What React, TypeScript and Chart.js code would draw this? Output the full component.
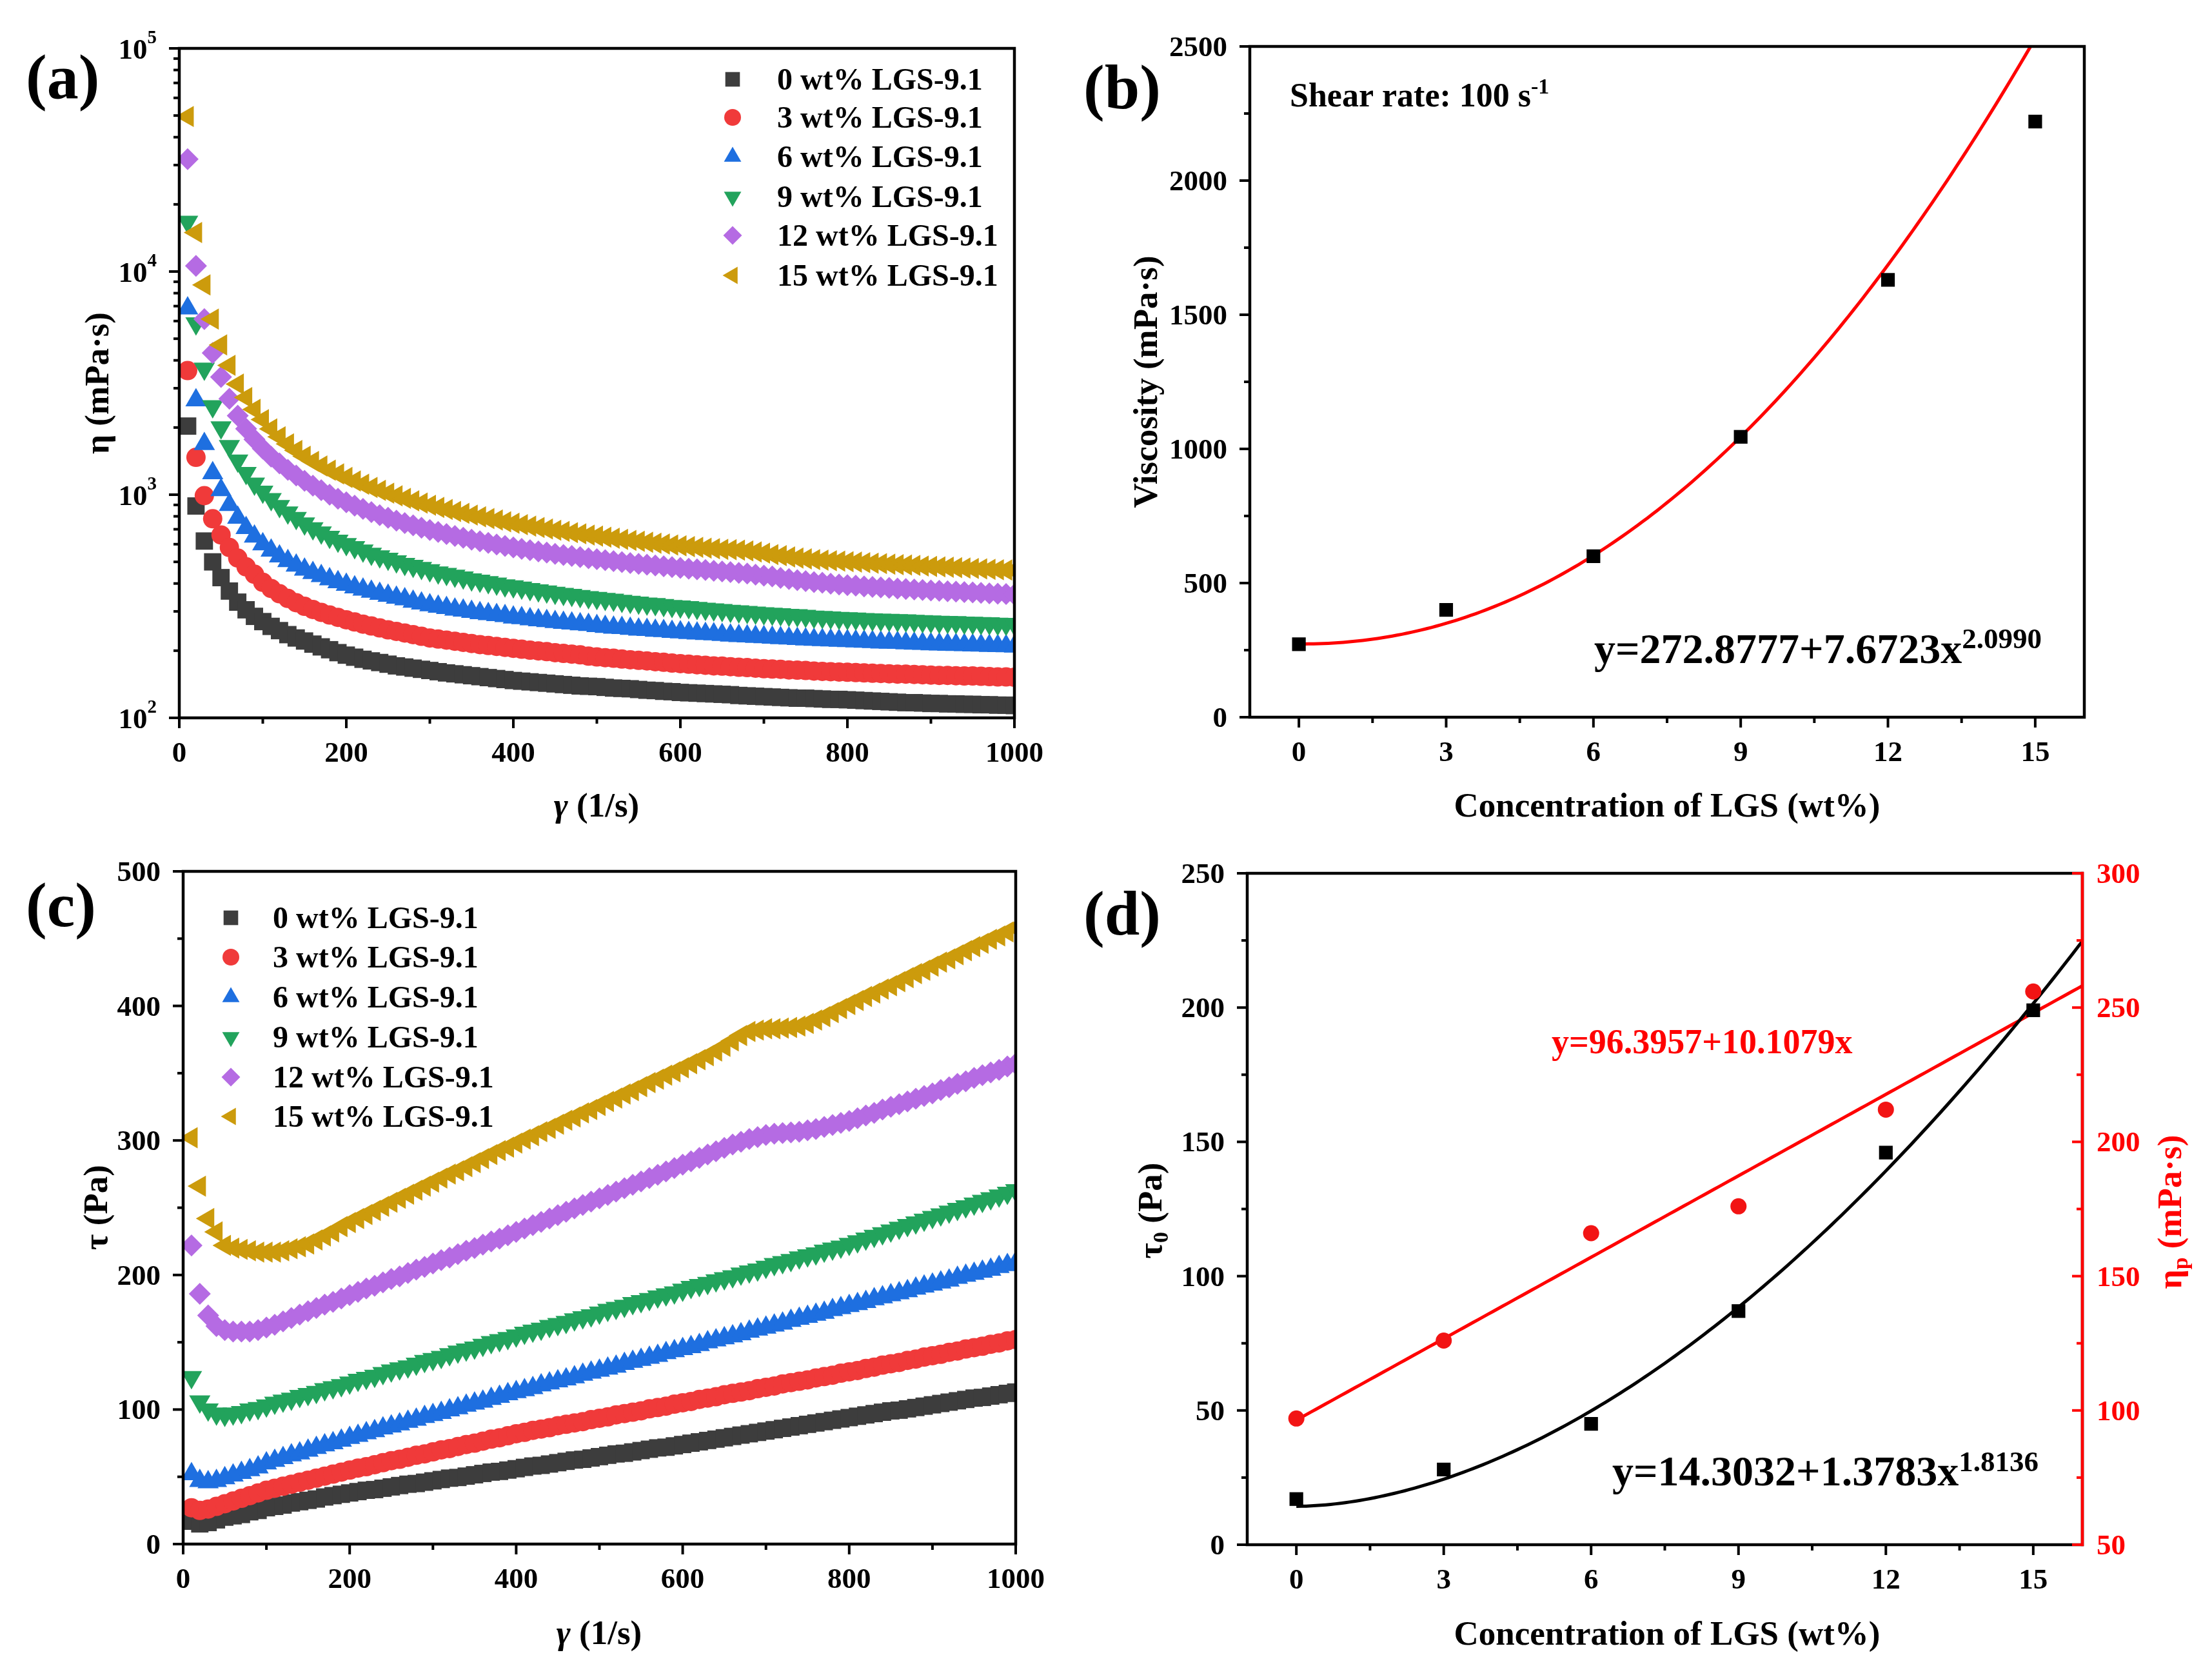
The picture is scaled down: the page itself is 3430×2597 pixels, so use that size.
import React, { useEffect, useRef } from 'react';
import { Chart, registerables } from 'chart.js';

Chart.register(...registerables);

const FONT = '"Liberation Serif", "Times New Roman", Times, serif';

// ---------- data ----------
const shearRate = [
  10, 20, 30, 40, 50, 60, 70, 80, 90, 100,
  110, 120, 130, 140, 150, 160, 170, 180, 190, 200,
  210, 220, 230, 240, 250, 260, 270, 280, 290, 300,
  310, 320, 330, 340, 350, 360, 370, 380, 390, 400,
  410, 420, 430, 440, 450, 460, 470, 480, 490, 500,
  510, 520, 530, 540, 550, 560, 570, 580, 590, 600,
  610, 620, 630, 640, 650, 660, 670, 680, 690, 700,
  710, 720, 730, 740, 750, 760, 770, 780, 790, 800,
  810, 820, 830, 840, 850, 860, 870, 880, 890, 900,
  910, 920, 930, 940, 950, 960, 970, 980, 990, 1000,
];

const seriesLabels = ['0 wt% LGS-9.1', '3 wt% LGS-9.1', '6 wt% LGS-9.1', '9 wt% LGS-9.1', '12 wt% LGS-9.1', '15 wt% LGS-9.1'];

// (a) viscosity, mPa·s
const visc0 = [
  2030, 890, 620, 500, 425, 370, 330, 305, 285, 270,
  257, 246, 236, 228, 221, 214, 208, 202, 196, 191,
  187, 183, 180, 177, 174, 171, 169, 167, 165, 163,
  161, 159, 157.5, 156, 154.5, 153, 151.5, 150, 148.5, 147,
  146, 145, 144, 143, 142, 141, 140, 139, 138.5, 138,
  137, 136, 135.5, 135, 134, 133, 132.5, 131.5, 131, 130,
  129.5, 129, 128.5, 128, 127.5, 127, 126, 125.5, 125, 124.5,
  124, 123.5, 123, 122.5, 122.5, 122, 121.5, 121, 121, 120.5,
  120, 119.5, 119, 118.5, 118, 117.5, 117, 117, 116.5, 116,
  116, 115.5, 115.5, 115, 115, 114.5, 114.5, 114, 114, 113.5,
];
const visc3 = [
  3600, 1470, 990, 780, 660, 580, 520, 475, 440, 405,
  380, 360, 343, 328, 316, 306, 297, 289, 282, 275,
  269, 263, 258, 253, 248, 244, 240, 236, 232, 228,
  225.5, 223, 220.5, 218, 215.5, 213, 211, 209, 207, 205,
  203, 201, 199.5, 198, 196, 194.5, 193, 191.5, 189, 187.5,
  186, 185, 183.5, 182, 181, 180, 178.5, 177.5, 176, 175,
  174, 173, 172, 171, 170.5, 169.5, 168.5, 168, 167, 166,
  165.5, 165, 164, 163.5, 163, 162, 161.5, 161, 160.5, 160,
  159.5, 159, 158.5, 158, 157.5, 157, 157, 156.5, 156, 155.5,
  155, 155, 154.5, 154, 154, 153.5, 153, 152.5, 152.5, 152,
];
const visc6 = [
  6840, 2650, 1690, 1250, 1050, 900, 790, 710, 650, 600,
  562, 530, 505, 482, 462, 446, 432, 418, 406, 395,
  385, 376, 368, 360, 353, 346, 340, 332, 326, 320,
  315, 311, 306, 303, 299, 295, 292, 289, 286, 282,
  280, 277, 274, 272, 269, 267, 265, 263, 261, 258,
  256, 254, 253, 251, 249, 248, 246, 245, 243, 242,
  240.5, 239, 238, 237, 235.5, 234, 233, 232, 231, 230,
  229, 228, 227, 226, 225, 224, 223.5, 222.5, 222, 221,
  220.5, 219.5, 219, 218, 217.5, 217, 216, 215.5, 215, 214,
  213.5, 213, 212.5, 212, 211.5, 211, 210.5, 210, 209.5, 209,
];
const visc9 = [
  16700, 5850, 3665, 2490, 2000, 1650, 1420, 1250, 1120, 1030,
  955, 888, 831, 786, 743, 706, 676, 647, 621, 600,
  581, 561, 543, 529, 516, 502, 489, 479, 469, 458,
  448, 441, 433, 425, 417, 411, 405, 399, 392, 388,
  383, 377, 372, 368, 363, 359, 355, 351, 347, 344,
  341, 338, 334, 331, 328, 325, 323, 320, 317, 315,
  313, 310.5, 308, 306, 304, 301.5, 300, 298, 296, 294,
  292.5, 291, 289, 288, 286, 284, 283, 281.5, 280, 279,
  278, 277, 276, 275, 274.5, 273.5, 273, 272, 271, 270,
  269, 268.5, 268, 267, 266.5, 265.5, 265, 264, 263.5, 263,
];
const visc12 = [
  31900, 10600, 6120, 4315, 3370, 2690, 2260, 1975, 1770, 1610,
  1482, 1380, 1292, 1218, 1153, 1097, 1047, 1000, 960, 925,
  893, 864, 835, 810, 788, 765, 746, 729, 711, 695,
  681, 666, 653, 641, 629, 618, 608, 598, 589, 580,
  572, 564, 557, 550, 543, 537, 531, 525, 519, 514,
  509, 504, 499, 494, 490, 486, 482, 478, 474, 470,
  466, 463, 460, 456, 453, 450, 446, 443, 438, 434,
  430, 424, 419, 414, 410, 406, 403, 399, 396, 393,
  391, 388, 386, 384, 382, 380, 378, 376, 374, 372,
  371, 369, 368, 366, 365, 363, 361, 360, 359, 357,
];
const visc15 = [
  49500, 14960, 8710, 6120, 4690, 3800, 3130, 2725, 2410, 2170,
  1973, 1817, 1688, 1579, 1487, 1410, 1345, 1288, 1240, 1195,
  1152, 1114, 1078, 1046, 1016, 988, 963, 939, 917, 897,
  877, 859, 841, 825, 810, 796, 782, 770, 756, 745,
  734, 723, 713, 702, 693, 685, 676, 668, 659, 652,
  645, 638, 631, 624, 618, 612, 606, 601, 595, 590,
  585, 581, 576, 573, 569, 567, 564, 560, 554, 547,
  539, 533, 526, 520, 516, 512, 509, 506, 504, 501,
  499, 496, 493, 491, 488, 486, 484, 482, 479, 477,
  475, 473, 471, 469, 467, 465, 463, 461, 460, 458,
];

// (c) shear stress, Pa
const stress0 = [
  17, 15, 16, 18, 20, 21, 22, 24, 25, 27,
  28, 29, 30.5, 31.5, 32.5, 33.5, 35, 36, 37, 38,
  39, 40, 40.5, 41.5, 42.5, 43.5, 44.5, 45, 46, 47,
  48, 49, 49.5, 50.5, 51.5, 52.5, 53.5, 54, 55, 56,
  57, 58, 58.5, 59.5, 60.5, 61.5, 62.5, 63, 64, 65,
  66, 67, 67.5, 68.5, 69.5, 70.5, 71.5, 72, 73, 74,
  75, 76, 77, 78, 79, 80, 81, 82, 83, 84,
  85, 86, 87, 88, 89, 90, 91, 92, 93, 94,
  95, 96, 97, 98, 99, 99.5, 100.5, 101.5, 102.5, 103.5,
  104.5, 105.5, 106.5, 107.5, 108.5, 109, 110, 111, 112, 113,
];
const stress3 = [
  27, 25, 26, 28, 30, 32, 34, 36, 38, 40,
  41.5, 43, 44.5, 46, 47.5, 49, 50.5, 52, 53.5, 55,
  56.5, 57.5, 59, 60.5, 62, 63, 64.5, 66, 67, 68.5,
  70, 71, 72.5, 74, 75, 76.5, 78, 79, 80.5, 82,
  83, 84.5, 85.5, 86.5, 88, 89, 90, 91, 92.5, 93.5,
  94.5, 96, 97, 98, 99, 100.5, 101.5, 102.5, 104, 105,
  106, 107.5, 108.5, 109.5, 111, 112, 113, 114, 115.5, 116.5,
  117.5, 119, 120, 121, 122, 123.5, 124.5, 125.5, 127, 128,
  129, 130.5, 131.5, 133, 134, 135, 136.5, 137.5, 139, 140,
  141, 142.5, 143.5, 145, 146, 147, 148.5, 149.5, 151, 152,
];
const stress6 = [
  52, 47, 46, 47, 49, 51, 53, 55, 57, 60,
  62, 64, 66, 67.5, 69.5, 71.5, 73.5, 75, 77, 79,
  80.5, 82.5, 84, 86, 87.5, 89, 91, 92.5, 94.5, 96,
  97.5, 99.5, 101, 103, 104.5, 106, 108, 109.5, 111.5, 113,
  114.5, 116, 118, 119.5, 121, 122.5, 124, 126, 127.5, 129,
  130.5, 132, 134, 135.5, 137, 138.5, 140, 142, 143.5, 145,
  146.5, 148, 150, 151.5, 153, 154.5, 156, 158, 159.5, 161,
  162.5, 164, 166, 167.5, 169, 170.5, 172, 174, 175.5, 177,
  178.5, 180, 182, 183.5, 185, 186.5, 188, 190, 191.5, 193,
  194.5, 196, 198, 199.5, 201, 202.5, 204, 206, 207.5, 209,
];
const stress9 = [
  124, 106, 100, 97, 96, 97, 98, 100, 101, 103,
  105, 106.5, 108, 110, 111.5, 113, 115, 116.5, 118, 120,
  122, 123.5, 125, 127, 129, 130.5, 132, 134, 136, 137.5,
  139, 141, 143, 144.5, 146, 148, 150, 151.5, 153, 155,
  157, 158.5, 160, 162, 163.5, 165, 167, 168.5, 170, 172,
  174, 175.5, 177, 179, 180.5, 182, 184, 185.5, 187, 189,
  191, 192.5, 194, 196, 197.5, 199, 201, 202.5, 204, 206,
  208, 209.5, 211, 213, 214.5, 216, 218, 219.5, 221, 223,
  225, 227, 229, 231, 233, 235, 237, 239, 241, 243,
  245, 247, 249, 251, 253, 255, 257, 259, 261, 263,
];
const stress12 = [
  222, 186, 170, 162, 159, 158, 158, 158, 159, 161,
  163, 165.5, 168, 170.5, 173, 175.5, 178, 180, 182.5, 185,
  187.5, 190, 192, 194.5, 197, 199, 201.5, 204, 206, 208.5,
  211, 213, 215.5, 218, 220, 222.5, 225, 227, 229.5, 232,
  234.5, 237, 239.5, 242, 244.5, 247, 249.5, 252, 254.5, 257,
  259.5, 262, 264.5, 267, 269.5, 272, 274.5, 277, 279.5, 282,
  284.5, 287, 289.5, 292, 294.5, 297, 299, 301, 302.5, 304,
  305, 305.5, 306, 306.5, 307.5, 308.5, 310, 311.5, 313, 314.5,
  316.5, 318.5, 320.5, 323, 325, 327, 329, 331, 333, 335,
  337.5, 339.5, 342, 344, 346.5, 348.5, 350.5, 352.5, 355, 357,
];
const stress15 = [
  302, 266, 242, 232, 222, 220, 219, 218, 217, 217,
  217, 218, 219.5, 221, 223, 226, 229, 232, 236, 239,
  242, 245, 248, 251, 254, 257, 260, 263, 266, 269,
  272, 275, 277.5, 280.5, 283.5, 286.5, 289.5, 292.5, 295, 298,
  301, 303.5, 306.5, 309, 312, 315, 317.5, 320.5, 323, 326,
  329, 331.5, 334.5, 337, 340, 343, 345.5, 348.5, 351, 354,
  357, 360, 363, 366.5, 370, 374, 378, 381, 382, 383,
  383, 383.5, 384, 385, 387, 389.5, 392, 395, 398, 401,
  404, 407, 409.5, 412.5, 415, 418, 421, 424, 426.5, 429.5,
  432.5, 435, 438, 441, 444, 446.5, 449.5, 452, 455, 458,
];

const viscSeries = [visc0, visc3, visc6, visc9, visc12, visc15];
const stressSeries = [stress0, stress3, stress6, stress9, stress12, stress15];

// (b) viscosity at 100 s-1 vs concentration
const concentration = [0, 3, 6, 9, 12, 15];
const viscosityAt100 = [272, 400, 600, 1045, 1630, 2220];
const FIT_B = { a: 272.8777, b: 7.6723, n: 2.099 };

// (d) yield stress and plastic viscosity
const yieldStress = [17, 28, 45, 87, 146, 199];
const plasticViscosity = [97, 126, 166, 176, 212, 256];
const FIT_D_TAU = { a: 14.3032, b: 1.3783, n: 1.8136 };
const FIT_D_ETA = { a: 96.3957, b: 10.1079 };

// tick values / labels
const rateTicks = [0, 200, 400, 600, 800, 1000];
const rateMinor = [100, 300, 500, 700, 900];
const logTicks = [100, 1000, 10000, 100000];
const logTickExp = ['2', '3', '4', '5'];
const logMinor = [200, 300, 400, 500, 600, 700, 800, 900, 2000, 3000, 4000, 5000, 6000, 7000, 8000, 9000, 20000, 30000, 40000, 50000, 60000, 70000, 80000, 90000];
const concTicks = [0, 3, 6, 9, 12, 15];
const concMinor = [1.5, 4.5, 7.5, 10.5, 13.5];
const viscTicks = [0, 500, 1000, 1500, 2000, 2500];
const viscMinor = [250, 750, 1250, 1750, 2250];
const stressTicks = [0, 100, 200, 300, 400, 500];
const stressMinor = [50, 150, 250, 350, 450];
const tauTicks = [0, 50, 100, 150, 200, 250];
const tauMinor = [25, 75, 125, 175, 225];
const etaPTicks = [50, 100, 150, 200, 250, 300];
const etaPMinor = [75, 125, 175, 225, 275];

// ---------- styles ----------
const seriesColor = ['#3d3d3d', '#f03a3a', '#1e6fe0', '#22a35c', '#b56be3', '#cc9b0c'];
const seriesStyle = ['rect', 'circle', 'triangle', 'triangle', 'rectRot', 'triangle'];
const seriesRotation = [0, 0, 0, 180, 0, -90];
const seriesRadius = [19, 15, 19, 19, 17, 19];
const legendRadius = [16, 13, 15.5, 15.5, 14.5, 15.5];
const RED = '#ff0000';

const AXIS_W = 4.5;
const TICK_W = 4;
const MAJ_LEN = 16;
const MIN_LEN = 9;
const TICK_FONT = 45;
const LEG_FONT = 48;
const TITLE_FONT = 53;
const PANEL_FONT = 98;

type Seg = { t: string; s: number; dy?: number; it?: boolean };
type TextItem = { segs: Seg[]; x: number; y: number; align?: 'left' | 'center' | 'right'; color?: string; rot?: number; vc?: boolean };
type AxisSpec = {
  id: string; side: 'bottom' | 'left' | 'right';
  major: number[]; minor: number[]; labels?: string[]; logExp?: string[];
  color?: string; inward?: boolean;
};
type LegendSpec = { mx: number; tx: number; rows: number[] };

const fontOf = (g: Seg) => `${g.it ? 'italic ' : ''}bold ${g.s}px ${FONT}`;

function drawRich(ctx: CanvasRenderingContext2D, item: TextItem) {
  const { segs, x, y, align = 'left', color = '#000', rot = 0, vc = false } = item;
  ctx.save();
  ctx.translate(x, y);
  if (rot) ctx.rotate((rot * Math.PI) / 180);
  let w = 0;
  for (const g of segs) { ctx.font = fontOf(g); w += ctx.measureText(g.t).width; }
  let cx = align === 'left' ? 0 : align === 'center' ? -w / 2 : -w;
  const by = vc ? segs[0].s * 0.27 : 0;
  ctx.fillStyle = color;
  ctx.textAlign = 'left';
  ctx.textBaseline = 'alphabetic';
  for (const g of segs) {
    ctx.font = fontOf(g);
    ctx.fillText(g.t, cx, by + (g.dy || 0));
    cx += ctx.measureText(g.t).width;
  }
  ctx.restore();
}

function drawMarker(ctx: CanvasRenderingContext2D, style: string, r: number, rotDeg: number, x: number, y: number, color: string) {
  ctx.save();
  ctx.translate(x, y);
  ctx.rotate((rotDeg * Math.PI) / 180);
  ctx.fillStyle = color;
  ctx.beginPath();
  if (style === 'circle') {
    ctx.arc(0, 0, r, 0, Math.PI * 2);
  } else if (style === 'rect') {
    const s = r * Math.SQRT1_2;
    ctx.rect(-s, -s, 2 * s, 2 * s);
  } else if (style === 'rectRot') {
    ctx.moveTo(0, -r); ctx.lineTo(r, 0); ctx.lineTo(0, r); ctx.lineTo(-r, 0); ctx.closePath();
  } else {
    for (let k = 0; k < 3; k++) {
      const a = (k * 2 * Math.PI) / 3;
      const px = Math.sin(a) * r, py = -Math.cos(a) * r;
      if (k === 0) ctx.moveTo(px, py); else ctx.lineTo(px, py);
    }
    ctx.closePath();
  }
  ctx.fill();
  ctx.restore();
}

function decor(axes: AxisSpec[], texts: TextItem[], legend?: LegendSpec) {
  return {
    id: 'decor',
    afterDatasetsDraw(chart: any) {
      const ctx: CanvasRenderingContext2D = chart.ctx;
      const a = chart.chartArea;
      ctx.save();
      ctx.lineCap = 'butt';
      ctx.strokeStyle = '#000';
      ctx.lineWidth = AXIS_W;
      ctx.strokeRect(a.left, a.top, a.right - a.left, a.bottom - a.top);

      for (const ax of axes) {
        const sc = chart.scales[ax.id];
        const col = ax.color || '#000';
        ctx.strokeStyle = col;
        ctx.fillStyle = col;
        if (ax.side === 'right' && ax.color) {
          ctx.lineWidth = AXIS_W;
          ctx.beginPath();
          ctx.moveTo(a.right, a.top - AXIS_W / 2);
          ctx.lineTo(a.right, a.bottom + AXIS_W / 2);
          ctx.stroke();
        }
        ctx.lineWidth = TICK_W;
        const tick = (v: number, len: number) => {
          const p = sc.getPixelForValue(v);
          ctx.beginPath();
          if (ax.side === 'bottom') { ctx.moveTo(p, a.bottom); ctx.lineTo(p, a.bottom + len); }
          else if (ax.side === 'left') { ctx.moveTo(a.left, p); ctx.lineTo(a.left - len, p); }
          else { const d = ax.inward ? -1 : 1; ctx.moveTo(a.right, p); ctx.lineTo(a.right + d * len, p); }
          ctx.stroke();
        };
        ax.major.forEach((v) => tick(v, MAJ_LEN));
        ax.minor.forEach((v) => tick(v, MIN_LEN));

        ctx.font = `bold ${TICK_FONT}px ${FONT}`;
        ctx.textBaseline = 'alphabetic';
        ax.major.forEach((v, i) => {
          const p = sc.getPixelForValue(v);
          if (ax.logExp) {
            drawRich(ctx, { segs: [{ t: '10', s: TICK_FONT }, { t: ax.logExp[i], s: 29, dy: -24 }], x: a.left - 35, y: p + 16, align: 'right', color: col });
            return;
          }
          const lab = ax.labels ? ax.labels[i] : String(v);
          ctx.font = `bold ${TICK_FONT}px ${FONT}`;
          if (ax.side === 'bottom') { ctx.textAlign = 'center'; ctx.fillText(lab, p, a.bottom + 68); }
          else if (ax.side === 'left') { ctx.textAlign = 'right'; ctx.fillText(lab, a.left - 35, p + 15); }
          else { ctx.textAlign = 'left'; ctx.fillText(lab, a.right + 22, p + 15); }
        });
      }

      if (legend) {
        seriesLabels.forEach((lab, i) => {
          const y = legend.rows[i];
          drawMarker(ctx, seriesStyle[i], legendRadius[i], seriesRotation[i], legend.mx, y, seriesColor[i]);
          ctx.fillStyle = '#000';
          ctx.font = `bold ${LEG_FONT}px ${FONT}`;
          ctx.textAlign = 'left';
          ctx.textBaseline = 'alphabetic';
          ctx.fillText(lab, legend.tx, y + 16);
        });
      }

      texts.forEach((t) => drawRich(ctx, t));
      ctx.restore();
    },
  };
}

const hidden = (extra: any) => ({ display: false, ticks: { display: false }, grid: { display: false }, border: { display: false }, title: { display: false }, ...extra });

const baseOptions = (padding: any, scales: any) => ({
  responsive: false,
  animation: false,
  events: [],
  layout: { padding },
  plugins: { legend: { display: false }, tooltip: { enabled: false }, title: { display: false } },
  scales,
});

const multiSeries = (ys: number[][]) =>
  ys.map((arr, i) => ({
    label: seriesLabels[i],
    data: shearRate.map((x, j) => ({ x, y: arr[j] })),
    pointStyle: seriesStyle[i],
    pointRotation: seriesRotation[i],
    pointRadius: seriesRadius[i],
    pointBackgroundColor: seriesColor[i],
    pointBorderWidth: 0,
    borderWidth: 0,
    showLine: false,
    order: -i,
  }));

const fitGrid = Array.from({ length: 161 }, (_, i) => i / 10);

function buildA() {
  return {
    type: 'scatter',
    data: { datasets: multiSeries(viscSeries) },
    options: baseOptions({ left: 278, right: 77, top: 75, bottom: 185 }, {
      x: hidden({ type: 'linear', min: 0, max: 1000 }),
      y: hidden({ type: 'logarithmic', min: 100, max: 100000 }),
    }),
    plugins: [decor(
      [
        { id: 'x', side: 'bottom', major: rateTicks, minor: rateMinor },
        { id: 'y', side: 'left', major: logTicks, minor: logMinor, logExp: logTickExp },
      ],
      [
        { segs: [{ t: '(a)', s: PANEL_FONT }], x: 40, y: 152 },
        { segs: [{ t: 'η (mPa·s)', s: TITLE_FONT }], x: 154, y: 594, align: 'center', rot: -90, vc: true },
        { segs: [{ t: 'γ', s: TITLE_FONT, it: true }, { t: ' (1/s)', s: TITLE_FONT }], x: 925, y: 1252, align: 'center', vc: true },
      ],
      { mx: 1136, tx: 1205, rows: [123, 182, 243, 305, 365, 427] },
    )],
  };
}

function buildB() {
  return {
    type: 'scatter',
    data: {
      datasets: [
        {
          label: 'Viscosity',
          data: concentration.map((x, i) => ({ x, y: viscosityAt100[i] })),
          pointStyle: 'rect', pointRadius: 15, pointBackgroundColor: '#000', pointBorderWidth: 0, showLine: false, order: 0,
        },
        {
          label: 'fit',
          data: fitGrid.map((x) => ({ x, y: FIT_B.a + FIT_B.b * Math.pow(x, FIT_B.n) })),
          showLine: true, pointRadius: 0, borderColor: RED, borderWidth: 5, fill: false, tension: 0, order: 1,
        },
      ],
    },
    options: baseOptions({ left: 288, right: 198, top: 72, bottom: 186 }, {
      x: hidden({ type: 'linear', min: -1, max: 16 }),
      y: hidden({ type: 'linear', min: 0, max: 2500 }),
    }),
    plugins: [decor(
      [
        { id: 'x', side: 'bottom', major: concTicks, minor: concMinor },
        { id: 'y', side: 'left', major: viscTicks, minor: viscMinor },
      ],
      [
        { segs: [{ t: '(b)', s: PANEL_FONT }], x: 30, y: 168 },
        { segs: [{ t: 'Viscosity (mPa·s)', s: TITLE_FONT }], x: 130, y: 592, align: 'center', rot: -90, vc: true },
        { segs: [{ t: 'Concentration of LGS (wt%)', s: TITLE_FONT }], x: 935, y: 1252, align: 'center', vc: true },
        { segs: [{ t: 'Shear rate: 100 s', s: 52 }, { t: '-1', s: 34, dy: -20 }], x: 350, y: 165 },
        { segs: [{ t: 'y=272.8777+7.6723x', s: 66 }, { t: '2.0990', s: 45, dy: -23 }], x: 822, y: 1028 },
      ],
    )],
  };
}

function buildC() {
  return {
    type: 'scatter',
    data: { datasets: multiSeries(stressSeries) },
    options: baseOptions({ left: 284, right: 75, top: 53, bottom: 203 }, {
      x: hidden({ type: 'linear', min: 0, max: 1000 }),
      y: hidden({ type: 'linear', min: 0, max: 500 }),
    }),
    plugins: [decor(
      [
        { id: 'x', side: 'bottom', major: rateTicks, minor: rateMinor },
        { id: 'y', side: 'left', major: stressTicks, minor: stressMinor },
      ],
      [
        { segs: [{ t: '(c)', s: PANEL_FONT }], x: 40, y: 138 },
        { segs: [{ t: 'τ (Pa)', s: TITLE_FONT }], x: 152, y: 574, align: 'center', rot: -90, vc: true },
        { segs: [{ t: 'γ', s: TITLE_FONT, it: true }, { t: ' (1/s)', s: TITLE_FONT }], x: 929, y: 1237, align: 'center', vc: true },
      ],
      { mx: 358, tx: 423, rows: [125, 186, 248, 310, 372, 433] },
    )],
  };
}

function buildD() {
  return {
    type: 'scatter',
    data: {
      datasets: [
        {
          label: 'τ0',
          data: concentration.map((x, i) => ({ x, y: yieldStress[i] })),
          yAxisID: 'y',
          pointStyle: 'rect', pointRadius: 15, pointBackgroundColor: '#000', pointBorderWidth: 0, showLine: false, order: 0,
        },
        {
          label: 'ηp',
          data: concentration.map((x, i) => ({ x, y: plasticViscosity[i] })),
          yAxisID: 'y1',
          pointStyle: 'circle', pointRadius: 12.5, pointBackgroundColor: '#f21414', pointBorderWidth: 0, showLine: false, order: 0,
        },
        {
          label: 'τ0 fit',
          data: fitGrid.map((x) => ({ x, y: FIT_D_TAU.a + FIT_D_TAU.b * Math.pow(x, FIT_D_TAU.n) })),
          yAxisID: 'y',
          showLine: true, pointRadius: 0, borderColor: '#000', borderWidth: 5, fill: false, tension: 0, order: 1,
        },
        {
          label: 'ηp fit',
          data: fitGrid.map((x) => ({ x, y: FIT_D_ETA.a + FIT_D_ETA.b * x })),
          yAxisID: 'y1',
          showLine: true, pointRadius: 0, borderColor: RED, borderWidth: 5, fill: false, tension: 0, order: 1,
        },
      ],
    },
    options: baseOptions({ left: 284, right: 201, top: 56, bottom: 202 }, {
      x: hidden({ type: 'linear', min: -1, max: 16 }),
      y: hidden({ type: 'linear', position: 'left', min: 0, max: 250 }),
      y1: hidden({ type: 'linear', position: 'right', min: 50, max: 300 }),
    }),
    plugins: [decor(
      [
        { id: 'x', side: 'bottom', major: concTicks, minor: concMinor },
        { id: 'y', side: 'left', major: tauTicks, minor: tauMinor },
        { id: 'y1', side: 'right', major: etaPTicks, minor: etaPMinor, color: RED, inward: true },
      ],
      [
        { segs: [{ t: '(d)', s: PANEL_FONT }], x: 30, y: 151 },
        { segs: [{ t: 'τ', s: TITLE_FONT }, { t: '0', s: 34, dy: 10 }, { t: ' (Pa)', s: TITLE_FONT }], x: 137, y: 579, align: 'center', rot: -90, vc: true },
        { segs: [{ t: 'η', s: TITLE_FONT }, { t: 'p', s: 34, dy: 10 }, { t: ' (mPa·s)', s: TITLE_FONT }], x: 1718, y: 581, align: 'center', rot: -90, vc: true, color: RED },
        { segs: [{ t: 'Concentration of LGS (wt%)', s: TITLE_FONT }], x: 935, y: 1238, align: 'center', vc: true },
        { segs: [{ t: 'y=96.3957+10.1079x', s: 54 }], x: 756, y: 335, color: RED },
        { segs: [{ t: 'y=14.3032+1.3783x', s: 66 }, { t: '1.8136', s: 45, dy: -22 }], x: 850, y: 1005 },
      ],
    )],
  };
}

function Panel({ left, top, width, height, build }: { left: number; top: number; width: number; height: number; build: () => any }) {
  const ref = useRef<HTMLCanvasElement>(null);
  useEffect(() => {
    const chart = new Chart(ref.current as HTMLCanvasElement, build());
    return () => chart.destroy();
  }, []);
  return (
    <canvas
      ref={ref}
      width={width}
      height={height}
      style={{ position: 'absolute', left, top, width, height, display: 'block' }}
    />
  );
}

export default function App() {
  return (
    <div style={{ position: 'absolute', left: 0, top: 0, width: 3430, height: 2597, background: '#ffffff', overflow: 'hidden' }}>
      <Panel left={0} top={0} width={1650} height={1298} build={buildA} />
      <Panel left={1650} top={0} width={1780} height={1298} build={buildB} />
      <Panel left={0} top={1298} width={1650} height={1299} build={buildC} />
      <Panel left={1650} top={1298} width={1780} height={1299} build={buildD} />
    </div>
  );
}
